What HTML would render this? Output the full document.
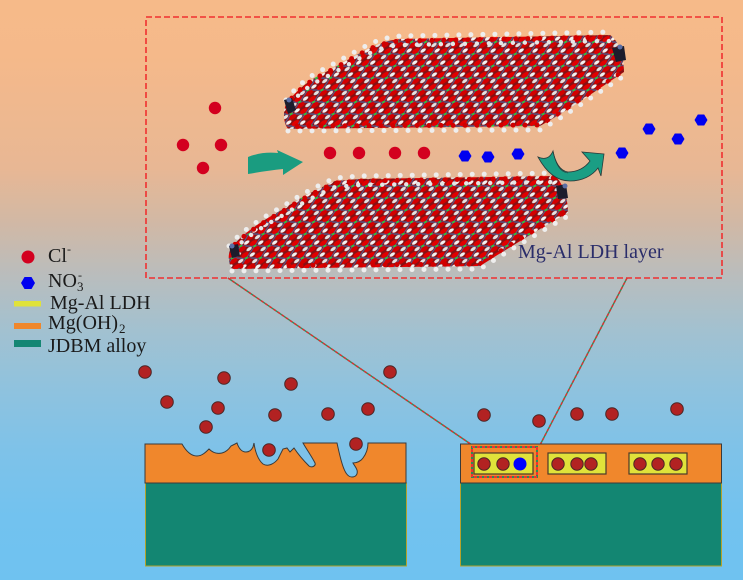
<!DOCTYPE html>
<html>
<head>
<meta charset="utf-8">
<style>
  html, body { margin: 0; padding: 0; width: 743px; height: 580px; overflow: hidden; background: #F6BA89; }
  svg { display: block; }
  text { font-family: "Liberation Serif", "DejaVu Serif", serif; }
</style>
</head>
<body>
<svg width="743" height="580" viewBox="0 0 743 580" xmlns="http://www.w3.org/2000/svg">
  <defs>
    <linearGradient id="bg" x1="0" y1="0" x2="0" y2="1">
      <stop offset="0" stop-color="#F6BA89"/>
      <stop offset="0.095" stop-color="#F5B98A"/>
      <stop offset="0.29" stop-color="#E8B794"/>
      <stop offset="0.38" stop-color="#D2B8A4"/>
      <stop offset="0.48" stop-color="#B8BDBE"/>
      <stop offset="0.57" stop-color="#A2C1D0"/>
      <stop offset="0.67" stop-color="#8FC2DE"/>
      <stop offset="0.77" stop-color="#7FC2E8"/>
      <stop offset="0.89" stop-color="#72C2EF"/>
      <stop offset="1" stop-color="#6FC2F0"/>
    </linearGradient>
    <pattern id="mol" width="14" height="12" patternUnits="userSpaceOnUse" patternTransform="skewX(-35)">
      <rect width="14" height="12" fill="#8a0f12"/>
      <path d="M0,6 L14,6 M7,0 L7,12" stroke="#4f5f94" stroke-width="1.3"/>
      <circle cx="3.5" cy="3" r="3" fill="#e20000"/>
      <circle cx="10.5" cy="9" r="3" fill="#d40000"/>
      <circle cx="10.5" cy="2.5" r="2.2" fill="#f2f2f2"/>
      <circle cx="3.5" cy="9" r="2.2" fill="#e2e2e2"/>
      <circle cx="7" cy="6" r="1.2" fill="#2fd12f"/>
    </pattern>
  </defs>

  <!-- background -->
  <rect x="0" y="0" width="743" height="580" fill="url(#bg)"/>

  <!-- big dashed box -->
  <rect x="146" y="17" width="576" height="261" fill="none" stroke="#F03030" stroke-width="1.6" stroke-dasharray="6 3"/>

  <!-- connector lines -->
  <line x1="228" y1="278" x2="472" y2="445" stroke="#2E8B57" stroke-width="1.4"/>
  <line x1="228" y1="278" x2="472" y2="445" stroke="#E03030" stroke-width="1.4" stroke-dasharray="3 2"/>
  <line x1="627" y1="278" x2="540" y2="445" stroke="#2E8B57" stroke-width="1.4"/>
  <line x1="627" y1="278" x2="540" y2="445" stroke="#E03030" stroke-width="1.4" stroke-dasharray="3 2"/>

  <!-- TOP LDH LAYER -->
  <path d="M286,104 C292,96 305,82 322,74 C338,66 355,55 370,48 C380,43 390,40 400,39 L610,35 C618,40 624,55 624,72 L612,80 C590,95 565,112 540,126 L288,129 C283,122 283,112 286,104 Z" fill="url(#mol)"/>
  <path d="M286,100 C292,92 305,78 322,70 C338,62 355,51 370,44 C380,39 390,37 400,36 L610,32" fill="none" stroke="#d00000" stroke-width="5" stroke-dasharray="0 12" stroke-dashoffset="3" stroke-linecap="round" transform="translate(0,5)"/>
  <path d="M286,100 C292,92 305,78 322,70 C338,62 355,51 370,44 C380,39 390,37 400,36 L610,32" fill="none" stroke="#eeeeee" stroke-width="5" stroke-dasharray="0 12" stroke-linecap="round"/>
  <path d="M286,100 C292,92 305,78 322,70 C338,62 355,51 370,44 C380,39 390,37 400,36 L610,32" fill="none" stroke="#e6e6e6" stroke-width="4.4" stroke-dasharray="0 12" stroke-dashoffset="6" stroke-linecap="round" transform="translate(0,9)"/>
  <path d="M288,131 L540,130 C565,116 590,98 624,76" fill="none" stroke="#d00000" stroke-width="5" stroke-dasharray="0 12" stroke-dashoffset="3" stroke-linecap="round" transform="translate(0,-5)"/>
  <path d="M288,131 L540,130 C565,116 590,98 624,76" fill="none" stroke="#eeeeee" stroke-width="5" stroke-dasharray="0 12" stroke-linecap="round"/>
  <path d="M284,100 L292,98 L296,110 L288,114 Z" fill="#1c1c2c"/>
  <path d="M612,48 L624,46 L626,60 L616,62 Z" fill="#1c1c2c"/>
  <circle cx="289" cy="100" r="2.5" fill="#5b6ea5"/>
  <circle cx="620" cy="47" r="2.5" fill="#5b6ea5"/>

  <!-- BOTTOM LDH LAYER -->
  <path d="M230,250 C240,235 260,222 285,208 C300,198 315,190 335,181 L360,179 L555,176 C562,182 568,196 568,213 L555,220 C530,235 505,250 480,266 L232,269 C228,262 228,256 230,250 Z" fill="url(#mol)"/>
  <path d="M229,246 C240,232 260,219 285,205 C300,195 315,187 335,178 L360,176 L555,173" fill="none" stroke="#d00000" stroke-width="5" stroke-dasharray="0 12" stroke-dashoffset="3" stroke-linecap="round" transform="translate(0,5)"/>
  <path d="M229,246 C240,232 260,219 285,205 C300,195 315,187 335,178 L360,176 L555,173" fill="none" stroke="#eeeeee" stroke-width="5" stroke-dasharray="0 12" stroke-linecap="round"/>
  <path d="M229,246 C240,232 260,219 285,205 C300,195 315,187 335,178 L360,176 L555,173" fill="none" stroke="#e6e6e6" stroke-width="4.4" stroke-dasharray="0 12" stroke-dashoffset="6" stroke-linecap="round" transform="translate(0,9)"/>
  <path d="M232,271 L480,269 C505,253 530,238 568,216" fill="none" stroke="#d00000" stroke-width="5" stroke-dasharray="0 12" stroke-dashoffset="3" stroke-linecap="round" transform="translate(0,-5)"/>
  <path d="M232,271 L480,269 C505,253 530,238 568,216" fill="none" stroke="#eeeeee" stroke-width="5" stroke-dasharray="0 12" stroke-linecap="round"/>
  <path d="M229,246 L238,244 L240,256 L232,258 Z" fill="#1c1c2c"/>
  <path d="M556,186 L566,184 L568,198 L558,199 Z" fill="#1c1c2c"/>
  <circle cx="232" cy="246" r="2.5" fill="#5b6ea5"/>
  <circle cx="565" cy="186" r="2.5" fill="#5b6ea5"/>

  <!-- Cl- ions top-left -->
  <g fill="#D3001F">
    <circle cx="215" cy="108" r="6.2"/>
    <circle cx="183" cy="145" r="6.2"/>
    <circle cx="221" cy="145" r="6.2"/>
    <circle cx="203" cy="168" r="6.2"/>
    <circle cx="330" cy="153" r="6.2"/>
    <circle cx="359" cy="153" r="6.2"/>
    <circle cx="395" cy="153" r="6.2"/>
    <circle cx="424" cy="153" r="6.2"/>
  </g>

  <!-- arrow 1 -->
  <path d="M248,157 C258,153 268,152 278,153 L277,150 L303,162 L283,175 L283,169 C272,170 260,172 248,174 Z" fill="#1A9C80"/>

  <!-- NO3- hexagons -->
  <g fill="#0000F0">
    <polygon points="458.5,156 461.8,150.5 468.2,150.5 471.5,156 468.2,161.5 461.8,161.5"/>
    <polygon points="481.5,157 484.8,151.5 491.2,151.5 494.5,157 491.2,162.5 484.8,162.5"/>
    <polygon points="511.5,154 514.8,148.5 521.2,148.5 524.5,154 521.2,159.5 514.8,159.5"/>
    <polygon points="615.5,153 618.8,147.5 625.2,147.5 628.5,153 625.2,158.5 618.8,158.5"/>
    <polygon points="642.5,129 645.8,123.5 652.2,123.5 655.5,129 652.2,134.5 645.8,134.5"/>
    <polygon points="671.5,139 674.8,133.5 681.2,133.5 684.5,139 681.2,144.5 674.8,144.5"/>
    <polygon points="694.5,120 697.8,114.5 704.2,114.5 707.5,120 704.2,125.5 697.8,125.5"/>
  </g>

  <!-- arrow 2 -->
  <path d="M538,157 C545,170 555,181 570,181 C582,181 592,176 598,168 L601,176 L604,154 L582,152 L590,161 C585,168 577,172 568,172 C560,171 555,162 553,151 C550,158 545,160 538,157 Z" fill="#1A9E84" stroke="#2a3a3a" stroke-width="0.8"/>
  <path d="M553,151 C556,165 560,172 568,173" fill="none" stroke="#2a3a3a" stroke-width="0.6"/>

  <!-- label -->
  <text x="518" y="258" font-size="20" fill="#2a2d6a">Mg-Al LDH layer</text>

  <!-- legend -->
  <circle cx="28" cy="257" r="6.5" fill="#D3001F"/>
  <text x="48" y="262" font-size="20" fill="#1a1a1a">Cl</text>
  <text x="67" y="253" font-size="12" fill="#1a1a1a">-</text>
  <polygon points="21,283 24.5,277 31.5,277 35,283 31.5,289 24.5,289" fill="#0000F0"/>
  <text x="48" y="287" font-size="20" fill="#1a1a1a">NO</text>
  <text x="77" y="291" font-size="13" fill="#1a1a1a">3</text>
  <text x="78" y="279" font-size="12" fill="#1a1a1a">-</text>
  <rect x="14" y="301" width="27" height="5.5" fill="#E0E23A"/>
  <text x="50" y="309" font-size="20" fill="#1a1a1a">Mg-Al LDH</text>
  <rect x="14" y="323" width="27" height="6" fill="#F0872C"/>
  <text x="48" y="329" font-size="20" fill="#1a1a1a">Mg(OH)</text>
  <text x="119" y="333" font-size="13" fill="#1a1a1a">2</text>
  <rect x="14" y="340" width="27" height="7" fill="#158673"/>
  <text x="48" y="352" font-size="20" fill="#1a1a1a">JDBM alloy</text>

  <!-- LEFT BLOCK -->
  <rect x="145.5" y="483" width="261" height="83" fill="#138672" stroke="#B5A22A" stroke-width="1"/>
  <path d="M145,444 L182,444 C186,451 191,456 197,456 C202,456 206,452 209,449 C213,453 218,454 222,453 C226,452 229,449 231,446 L237,443 C239,449 242,452 246,452 C250,452 252,449 253,447 L254,443 C255,451 258,460 263,464 C268,467 274,464 278,459 C280,455 282,451 283,449 L287,448 L290,452 L294,448 C298,454 304,461 309,466 C312,468 316,466 315,463 C312,457 307,450 303,443 L337,443 C339,452 341,462 344,469 C346,474 349,477 352,477 C356,477 358,474 357,470 C356,467 354,465 353,463 C357,463 361,461 363,458 C366,454 368,449 368,443 L406,443 L406,483 L145,483 Z" fill="#F0872C" stroke="#3a3a3a" stroke-width="1"/>

  <!-- RIGHT BLOCK -->
  <rect x="460.5" y="483" width="261" height="83" fill="#138672" stroke="#B5A22A" stroke-width="1"/>
  <rect x="460.5" y="444" width="261" height="39" fill="#F0872C" stroke="#3a3a3a" stroke-width="1"/>
  <rect x="474" y="453" width="59" height="21" fill="#E0E23A" stroke="#4a3a2a" stroke-width="1.2"/>
  <rect x="548" y="453" width="58" height="21" fill="#E0E23A" stroke="#4a3a2a" stroke-width="1.2"/>
  <rect x="629" y="453" width="58" height="21" fill="#E0E23A" stroke="#4a3a2a" stroke-width="1.2"/>
  <rect x="472" y="447" width="65" height="30" fill="none" stroke="#2E8B57" stroke-width="2"/>
  <rect x="472" y="447" width="65" height="30" fill="none" stroke="#F03030" stroke-width="2" stroke-dasharray="3 2"/>

  <!-- dark red Cl- dots (bottom) -->
  <g fill="#B22222" stroke="#4a2626" stroke-width="1">
    <circle cx="484" cy="464" r="6.2"/>
    <circle cx="503" cy="464" r="6.2"/>
    <circle cx="558" cy="464" r="6.2"/>
    <circle cx="577" cy="464" r="6.2"/>
    <circle cx="591" cy="464" r="6.2"/>
    <circle cx="640" cy="464" r="6.2"/>
    <circle cx="658" cy="464" r="6.2"/>
    <circle cx="676" cy="464" r="6.2"/>

    <circle cx="484" cy="415" r="6.3"/>
    <circle cx="539" cy="421" r="6.3"/>
    <circle cx="577" cy="414" r="6.3"/>
    <circle cx="612" cy="414" r="6.3"/>
    <circle cx="677" cy="409" r="6.3"/>

    <circle cx="145" cy="372" r="6.3"/>
    <circle cx="224" cy="378" r="6.3"/>
    <circle cx="291" cy="384" r="6.3"/>
    <circle cx="390" cy="372" r="6.3"/>
    <circle cx="167" cy="402" r="6.3"/>
    <circle cx="218" cy="408" r="6.3"/>
    <circle cx="275" cy="415" r="6.3"/>
    <circle cx="328" cy="414" r="6.3"/>
    <circle cx="368" cy="409" r="6.3"/>
    <circle cx="206" cy="427" r="6.3"/>
    <circle cx="269" cy="450" r="6.3"/>
    <circle cx="356" cy="444" r="6.3"/>
  </g>
  <circle cx="520" cy="464" r="6.5" fill="#0000FF"/>
</svg>
</body>
</html>
